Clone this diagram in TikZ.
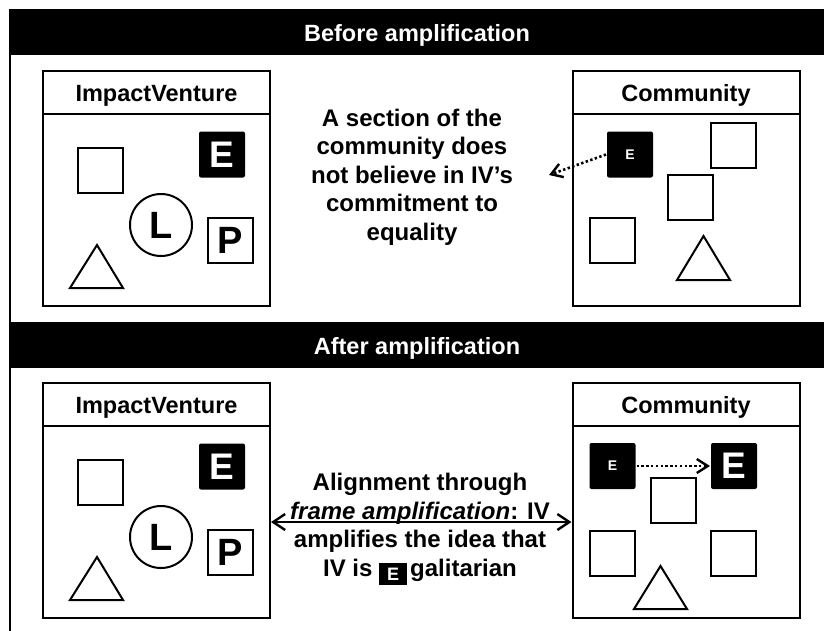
\documentclass[tikz,border=0pt]{standalone}
\usepackage{fontspec}
\setmainfont{Liberation Sans}
\usetikzlibrary{arrows.meta,positioning}

\newcommand{\ebox}{\raisebox{-4pt}{\setlength{\fboxsep}{4.5pt}\colorbox{black}{\makebox[19pt]{\color{white}\fontsize{18}{18}\selectfont E}}}}

\begin{document}
\begin{tikzpicture}[x=1pt,y=-1pt,line width=2pt]
\tikzset{
	bar/.style = {fill=black, text=white, minimum width=814pt, minimum height=46pt,
		text height=24pt, text depth=5pt, font=\fontsize{23.5}{23.5}\bfseries},
	panel/.style = {draw, minimum width=227pt, minimum height=235pt},
	ttl/.style = {font=\fontsize{23.5}{23.5}\bfseries},
	sq/.style = {draw, minimum size=45pt, inner sep=0pt},
	blk/.style = {fill=black, rounded corners=2pt, text=white, minimum size=46pt,
		inner sep=0pt, font=\fontsize{37}{37}\bfseries},
	smallblk/.style = {blk, font=\fontsize{14}{14}\bfseries},
	ring/.style = {draw, circle, minimum size=62pt, inner sep=0pt,
		font=\fontsize{38}{38}\bfseries},
	txt/.style = {align=center, font=\fontsize{24}{28.5}\bfseries},
	dotarr/.style = {line width=2.6pt, dash pattern=on 2.4pt off 2.4pt,
		-{Straight Barb[length=11pt,width=14pt,line width=2.4pt]}},
	dblarr/.style = {line width=2.2pt,
		{Straight Barb[length=12pt,width=16pt,line width=2.4pt]}-{Straight Barb[length=12pt,width=16pt,line width=2.4pt]}}
}
\useasboundingbox (0,0) rectangle (824,630);
% frame and section bars
\draw (10,9) -- (10,632);
\node[bar] (barB) at (417,32) {Before amplification};
\node[bar] (barA) at (417,344.5) {After amplification};
% ImpactVenture, before and after
\foreach \s/\dy in {B/0,A/312}{
	\node[panel] (iv\s) at (156.5,188.5+\dy) {};
	\draw ([yshift=-44pt]iv\s.north west) -- ([yshift=-44pt]iv\s.north east);
	\node[ttl] (iv\s T) at ([yshift=-25.5pt]iv\s.north) {ImpactVenture};
	\node[sq] (iv\s Q) at (100.5,170.5+\dy) {};
	\node[blk] (iv\s E) at (222,154.5+\dy) {E};
	\node[ring] (iv\s L) at (161,225+\dy) {L};
	\node[sq, font=\fontsize{38}{38}\bfseries] (iv\s P) at (230.5,240.5+\dy) {P};
	\draw (70,288+\dy) -- (123,288+\dy) -- (97,245+\dy) -- cycle;
}
% Community, before
\node[panel] (cmB) at (686,188.5) {};
\draw ([yshift=-44pt]cmB.north west) -- ([yshift=-44pt]cmB.north east);
\node[ttl] (cmBT) at ([yshift=-25.5pt]cmB.north) {Community};
\node[smallblk] (cmBE) at (630,154.5) {E};
\node[sq] (cmBQ1) at (733.5,145) {};
\node[sq] (cmBQ2) at (690,197.5) {};
\node[sq] (cmBQ3) at (612.5,240.5) {};
\draw (677,280) -- (730,280) -- (703.5,236) -- cycle;
\node[txt] (secTxt) at (412,177) {A section of the\\community does\\not believe in IV’s\\commitment to\\equality};
\coordinate (secTip) at (549,175);
\draw[dotarr] (cmBE.west) -- (secTip);
% Community, after
\node[panel] (cmA) at (686,500.5) {};
\draw ([yshift=-44pt]cmA.north west) -- ([yshift=-44pt]cmA.north east);
\node[ttl] (cmAT) at ([yshift=-25.5pt]cmA.north) {Community};
\node[smallblk] (cmAE) at (612.5,466) {E};
\node[blk] (cmAE2) at (734,466) {E};
\node[sq] (cmAQ1) at (673.5,500.5) {};
\node[sq] (cmAQ2) at (612.5,553.5) {};
\node[sq] (cmAQ3) at (733.5,553.5) {};
\draw (634,609) -- (687,609) -- (660.5,566) -- cycle;
\draw[dotarr] (cmAE.east) -- (cmAE2.west);
\node[txt] (algTxt) at (420,529) {Alignment through\\\textit{frame amplification}: IV\\amplifies the idea that\\IV is \ebox\hspace{3pt}galitarian};
\draw[dblarr] (ivA.east |- 0,522) -- (cmA.west |- 0,522);
\end{tikzpicture}
\end{document}
